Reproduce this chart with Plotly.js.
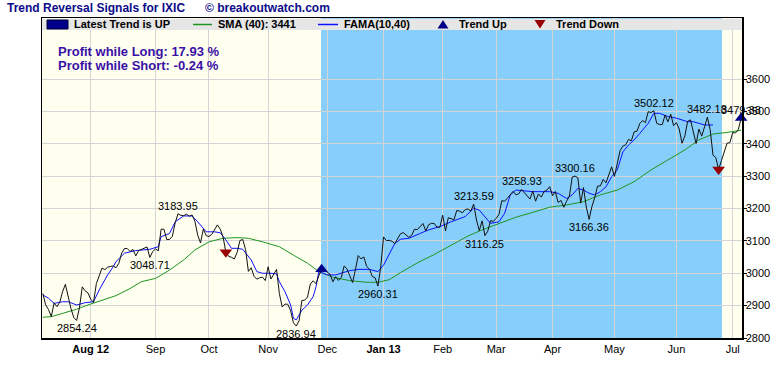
<!DOCTYPE html>
<html>
<head>
<meta charset="utf-8">
<script src="https://cdn.plot.ly/plotly-3.0.1.min.js"></script>
<style>html,body{margin:0;padding:0;background:#fff;}#chart{width:779px;height:371px;}</style>
</head>
<body>
<div id="chart"></div>
<script>
// Daily closes of IXIC, one per trading day (index 0 = first bar, Jul 2012)
const close = [
  2937.33, 2902.33, 2887.98, 2866.19, 2908.47, 2896.94, 2910.04, 2942.60, 2965.90, 2925.30, 2890.15, 2862.99, 2854.24, 2893.25, 2958.09, 2945.84, 2939.52,
  2920.21, 2909.77, 2967.90, 2989.91, 3015.86, 3011.25, 3018.64, 3020.86, 3022.52, 3016.98, 3030.93, 3062.39, 3076.59, 3076.21, 3067.26, 3073.67, 3053.40, 3069.79, 3073.19, 3077.14, 3081.19, 3048.71, 3066.96,
  3075.06, 3069.27, 3135.81, 3136.42, 3104.02, 3104.53, 3114.31, 3155.83, 3183.95, 3178.67, 3177.80, 3182.62, 3175.96, 3179.96, 3160.78, 3117.73, 3093.70, 3136.60, 3116.23,
  3113.53, 3120.04, 3135.23, 3149.46, 3136.19, 3112.35, 3065.02, 3051.78, 3049.41, 3044.11, 3064.18, 3101.17, 3104.12, 3072.87, 3005.62, 3016.96, 2990.46, 2981.70, 2986.12, 2987.95, 2977.23,
  3020.06, 2982.13, 2999.66, 3011.93, 2937.29, 2895.58, 2904.87, 2904.26, 2883.89, 2846.81, 2836.94, 2853.13, 2916.07, 2916.68, 2926.55, 2966.85, 2976.78, 2967.79, 2991.78, 3012.03, 3010.24,
  3002.20, 2996.69, 2973.70, 2989.27, 2978.04, 2986.96, 3022.30, 3013.81, 2992.16, 2971.33, 3010.60, 3054.53, 3044.36, 3050.39, 3021.01, 3012.60, 2990.16, 2985.91, 2960.31, 3019.51,
  3112.26, 3100.57, 3101.66, 3098.81, 3091.81, 3105.81, 3121.76, 3125.63, 3117.50, 3110.78, 3117.54, 3136.00, 3134.71, 3143.18, 3153.67, 3130.38, 3149.71, 3154.30, 3153.66, 3142.31, 3142.13,
  3179.10, 3131.17, 3171.58, 3168.48, 3165.13, 3193.87, 3192.00, 3186.49, 3196.88, 3198.66, 3192.03, 3213.59, 3164.41, 3131.49, 3161.82, 3116.25, 3129.65, 3162.26, 3160.19,
  3169.74, 3182.03, 3224.13, 3222.37, 3232.09, 3244.37, 3252.87, 3242.32, 3245.12, 3258.93, 3249.07, 3237.59, 3229.10, 3254.19, 3222.60, 3245.00, 3235.30, 3252.48, 3256.52, 3267.52,
  3239.17, 3252.48, 3218.60, 3224.98, 3203.86, 3222.25, 3237.86, 3297.25, 3300.16, 3294.95, 3216.49, 3264.63, 3204.67, 3166.36, 3206.06, 3233.55, 3269.33, 3269.65, 3289.99, 3279.26, 3307.02, 3328.79,
  3299.13, 3340.62, 3378.63, 3392.97, 3396.63, 3413.27, 3409.17, 3436.58, 3438.79, 3462.61, 3471.62, 3465.24, 3498.97, 3496.43, 3502.12, 3463.30, 3459.14, 3459.42, 3488.89, 3467.52, 3491.30, 3455.91,
  3465.37, 3445.26, 3401.48, 3424.05, 3469.22, 3473.77, 3436.95, 3400.43, 3445.36, 3423.56, 3452.13, 3482.18, 3443.20, 3364.64, 3357.25, 3320.76, 3347.89, 3376.22, 3401.86, 3403.25,
  3434.49, 3433.40, 3443.67, 3479.38
];

// SMA(40) (trading-day index, value)
const smaIdx = [0, 3, 7, 12, 16, 21, 26, 31, 35, 40, 45, 50, 54, 59, 64, 69, 73, 78, 84, 89, 94, 98, 103, 109, 115, 119, 123, 127, 133, 139, 145, 151, 156, 162, 168, 174, 180, 186, 192, 198, 204, 210, 216, 222, 228, 233, 238, 243, 248];
const smaVal = [2864, 2866, 2876, 2889, 2902, 2917, 2931, 2953, 2974, 2984, 3010, 3041, 3072, 3097, 3108, 3110, 3108, 3097, 3082, 3056, 3031, 3005, 2988, 2977, 2972, 2972, 2980, 3002, 3032, 3058, 3087, 3115, 3134, 3154, 3173, 3188, 3204, 3211, 3221, 3242, 3257, 3283, 3319, 3350, 3381, 3412, 3430, 3435, 3442];

// FAMA(10,40)
const famaIdx = [0, 2, 4, 7, 9, 12, 15, 18, 20, 23, 25, 26, 29, 33, 38, 41, 42, 45, 47, 50, 53, 55, 58, 61, 63, 65, 67, 69, 71, 74, 76, 78, 81, 83, 84, 86, 88, 89, 90, 92, 94, 96, 97, 98, 101, 104, 109, 112, 116, 119, 121, 123, 125, 127, 130, 134, 137, 141, 145, 150, 153, 155, 158, 159, 162, 164, 166, 168, 174, 180, 183, 185, 186, 188, 190, 192, 194, 196, 198, 200, 202, 204, 206, 208, 210, 212, 215, 217, 219, 222, 225, 229, 231, 235, 238];
const famaVal = [2933, 2923, 2907, 2912, 2912, 2902, 2909, 2912, 2948, 2995, 3020, 3036, 3062, 3070, 3074, 3082, 3113, 3123, 3159, 3177, 3177, 3159, 3128, 3128, 3125, 3103, 3077, 3077, 3074, 3041, 3005, 3000, 3000, 2998, 2974, 2943, 2902, 2861, 2856, 2886, 2902, 2928, 2958, 3005, 2995, 2995, 3008, 3012, 3012, 3005, 3025, 3059, 3092, 3105, 3108, 3123, 3134, 3144, 3159, 3175, 3201, 3195, 3164, 3154, 3159, 3185, 3242, 3257, 3252, 3252, 3247, 3237, 3231, 3242, 3262, 3257, 3247, 3242, 3252, 3267, 3298, 3319, 3375, 3396, 3412, 3432, 3463, 3494, 3494, 3484, 3479, 3468, 3468, 3458, 3458];

// Trend signals (trading-day index)
const trendUpIdx = [99, 248];
const trendDownIdx = [65, 240];

// Labelled turning points
const labelIdx = [12, 38, 48, 90, 119, 153, 157, 170, 189, 194, 217, 236, 248];
const labelPos = ['below', 'below', 'above', 'below', 'below', 'above', 'below', 'above', 'above', 'below', 'above', 'above', 'above'];

// Month ticks: first trading day of each month
const monthTickIdx = [17, 40, 59, 80, 101, 121, 142, 161, 181, 203, 225, 245];
const monthTickLabels = ['<b>Aug 12</b>', 'Sep', 'Oct', 'Nov', 'Dec', '<b>Jan 13</b>', 'Feb', 'Mar', 'Apr', 'May', 'Jun', 'Jul'];

const yTicks = [2800, 2900, 3000, 3100, 3200, 3300, 3400, 3500, 3600];

const FONT = 'Liberation Sans, Arial, Helvetica, sans-serif';
const dayIdx = close.map((v, i) => i);

const traces = [
  {x: smaIdx, y: smaVal, type: 'scatter', mode: 'lines', line: {color: '#1f951f', width: 1}, hoverinfo: 'skip'},
  {x: famaIdx, y: famaVal, type: 'scatter', mode: 'lines', line: {color: '#1010ff', width: 1}, hoverinfo: 'skip'},
  {x: dayIdx, y: close, type: 'scatter', mode: 'lines', line: {color: '#111111', width: 1}},
  {x: trendUpIdx, y: trendUpIdx.map(i => close[i]), type: 'scatter', mode: 'markers', cliponaxis: false,
   marker: {symbol: 'triangle-up', size: 11, color: '#000088'}},
  {x: trendDownIdx, y: trendDownIdx.map(i => close[i]), type: 'scatter', mode: 'markers', cliponaxis: false,
   marker: {symbol: 'triangle-down', size: 11, color: '#990000'}}
];

// plot geometry in paper units (plot area 700 x 320 px)
const W = 700, H = 320, L = 42, T = 18;
const px = v => (v - L) / W;
const py = v => (T + H - v) / H;

const shapes = [
  // bullish regime shading
  {type: 'rect', xref: 'x', yref: 'paper', x0: trendUpIdx[0] - 0.2, x1: trendDownIdx[1] + 1.2, y0: 0, y1: 1,
   fillcolor: '#87cefa', line: {width: 0}, layer: 'below'},
  // legend band
  {type: 'rect', xref: 'paper', yref: 'paper', x0: 0, x1: 1, y0: py(30), y1: py(18.8),
   fillcolor: '#e6e6e6', line: {width: 0}, layer: 'above'},
  {type: 'rect', xref: 'paper', yref: 'paper', x0: px(47), x1: px(68), y0: py(29), y1: py(20),
   fillcolor: '#00008b', line: {color: '#000033', width: 1}, layer: 'above'},
  {type: 'line', xref: 'paper', yref: 'paper', x0: px(193), x1: px(212), y0: py(24.5), y1: py(24.5),
   line: {color: '#1f951f', width: 1.5}, layer: 'above'},
  {type: 'line', xref: 'paper', yref: 'paper', x0: px(318), x1: px(338), y0: py(24.5), y1: py(24.5),
   line: {color: '#1010ff', width: 1.5}, layer: 'above'},
  {type: 'path', xref: 'paper', yref: 'paper', layer: 'above',
   path: `M ${px(437.5)} ${py(28.5)} L ${px(448.5)} ${py(28.5)} L ${px(443)} ${py(20)} Z`,
   fillcolor: '#000088', line: {width: 0}},
  {type: 'path', xref: 'paper', yref: 'paper', layer: 'above',
   path: `M ${px(534.5)} ${py(20)} L ${px(545.5)} ${py(20)} L ${px(540)} ${py(28.5)} Z`,
   fillcolor: '#990000', line: {width: 0}}
];

const annotations = [
  {text: '<b>Trend Reversal Signals for IXIC</b>', xref: 'paper', yref: 'paper', x: px(5), y: py(8.5),
   xanchor: 'left', yanchor: 'middle', showarrow: false, font: {family: FONT, size: 12, color: '#0b0b8a'}},
  {text: '<b>© breakoutwatch.com</b>', xref: 'paper', yref: 'paper', x: px(203), y: py(8.5),
   xanchor: 'left', yanchor: 'middle', showarrow: false, font: {family: FONT, size: 12, color: '#0b0b8a'}},
  {text: '<b>Latest Trend is UP</b>', xref: 'paper', yref: 'paper', x: px(72), y: py(24.5),
   xanchor: 'left', yanchor: 'middle', showarrow: false, font: {family: FONT, size: 11, color: '#000'}},
  {text: '<b>SMA (40): 3441</b>', xref: 'paper', yref: 'paper', x: px(216), y: py(24.5),
   xanchor: 'left', yanchor: 'middle', showarrow: false, font: {family: FONT, size: 11, color: '#000'}},
  {text: '<b>FAMA(10,40)</b>', xref: 'paper', yref: 'paper', x: px(342), y: py(24.5),
   xanchor: 'left', yanchor: 'middle', showarrow: false, font: {family: FONT, size: 11, color: '#000'}},
  {text: '<b>Trend Up</b>', xref: 'paper', yref: 'paper', x: px(457), y: py(24.5),
   xanchor: 'left', yanchor: 'middle', showarrow: false, font: {family: FONT, size: 11, color: '#000'}},
  {text: '<b>Trend Down</b>', xref: 'paper', yref: 'paper', x: px(554), y: py(24.5),
   xanchor: 'left', yanchor: 'middle', showarrow: false, font: {family: FONT, size: 11, color: '#000'}},
  {text: '<b>Profit while Long: 17.93 %</b>', xref: 'paper', yref: 'paper', x: px(56), y: py(51.5),
   xanchor: 'left', yanchor: 'middle', showarrow: false, font: {family: FONT, size: 13, color: '#3a10a6'}},
  {text: '<b>Profit while Short: -0.24 %</b>', xref: 'paper', yref: 'paper', x: px(56), y: py(65),
   xanchor: 'left', yanchor: 'middle', showarrow: false, font: {family: FONT, size: 13, color: '#3a10a6'}}
];

labelIdx.forEach((i, k) => {
  annotations.push({
    text: close[i].toFixed(2), x: i, y: close[i], xref: 'x', yref: 'y', showarrow: false,
    xanchor: 'center', yanchor: labelPos[k] === 'above' ? 'bottom' : 'top',
    font: {family: FONT, size: 11, color: '#000'}
  });
});

const layout = {
  width: 779, height: 371,
  margin: {l: 42, r: 37, t: 18, b: 33, pad: 0},
  paper_bgcolor: '#ffffff',
  plot_bgcolor: '#fffff0',
  showlegend: false,
  font: {family: FONT, size: 11, color: '#000'},
  xaxis: {
    range: [-0.3, 248.3], tickmode: 'array', tickvals: monthTickIdx, ticktext: monthTickLabels,
    showgrid: true, gridcolor: '#d4d4d4', gridwidth: 1, zeroline: false,
    showline: true, linecolor: '#000', linewidth: 1.5, mirror: true, ticks: '',
    tickfont: {family: FONT, size: 11, color: '#000'}
  },
  yaxis: {
    side: 'right', range: [2800, 3788.4], tickmode: 'array', tickvals: yTicks,
    showgrid: true, gridcolor: '#d4d4d4', gridwidth: 1, zeroline: false,
    showline: true, linecolor: '#000', linewidth: 1.5, mirror: true,
    ticks: 'outside', ticklen: 3, tickcolor: '#000', ticklabelstandoff: -3,
    tickfont: {family: FONT, size: 11, color: '#000'}
  },
  shapes: shapes,
  annotations: annotations
};

Plotly.newPlot('chart', traces, layout, {displayModeBar: false, staticPlot: true});
</script>
</body>
</html>
